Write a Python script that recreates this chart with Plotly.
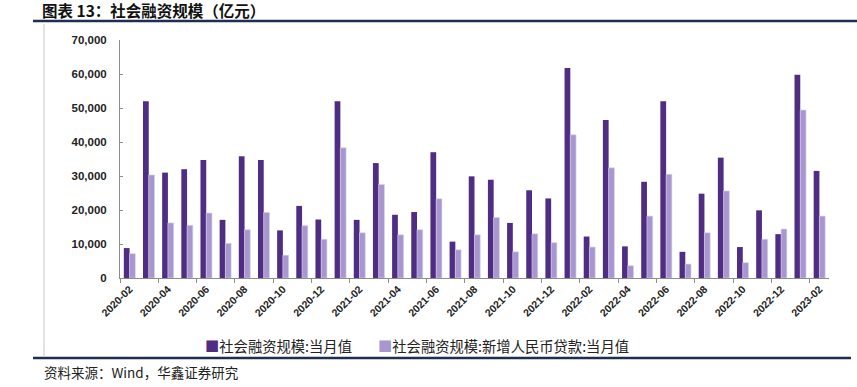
import plotly.graph_objects as go

months = [
    "2020-02", "2020-03", "2020-04", "2020-05", "2020-06", "2020-07", "2020-08", "2020-09",
    "2020-10", "2020-11", "2020-12", "2021-01", "2021-02", "2021-03", "2021-04", "2021-05",
    "2021-06", "2021-07", "2021-08", "2021-09", "2021-10", "2021-11", "2021-12", "2022-01",
    "2022-02", "2022-03", "2022-04", "2022-05", "2022-06", "2022-07", "2022-08", "2022-09",
    "2022-10", "2022-11", "2022-12", "2023-01", "2023-02",
]
tsf_total = [
    8800, 52000, 31000, 32000, 34700, 17100, 35800, 34700,
    14000, 21200, 17200, 52000, 17100, 33800, 18600, 19400,
    37000, 10700, 29900, 28900, 16200, 25800, 23400, 61800,
    12200, 46500, 9300, 28300, 52000, 7700, 24800, 35400,
    9100, 19900, 12900, 59800, 31500,
]
tsf_loans = [
    7150, 30300, 16200, 15500, 19100, 10200, 14200, 19300,
    6700, 15400, 11400, 38300, 13300, 27500, 12700, 14200,
    23300, 8300, 12700, 17800, 7700, 13000, 10400, 42100,
    9100, 32400, 3600, 18200, 30500, 4100, 13300, 25600,
    4500, 11400, 14400, 49400, 18200,
]
name_total = "社会融资规模:当月值"
name_loans = "社会融资规模:新增人民币贷款:当月值"
y_ticks = [0, 10000, 20000, 30000, 40000, 50000, 60000, 70000]

DARK = "#4E2D83"
LIGHT = "#A797CE"
NAVY = "#1F2D4F"

idx = list(range(len(months)))
fig = go.Figure()
fig.add_trace(go.Bar(x=idx, y=tsf_total, name=name_total, marker_color=DARK,
                     marker_line_width=0))
fig.add_trace(go.Bar(x=idx, y=tsf_loans, name=name_loans, marker_color=LIGHT,
                     marker_line=dict(color="#D9D2EC", width=0.6)))

L, R, T, B = 120, 28, 40, 109
W, H = 857, 387
pw = W - L - R
ph = H - T - B

def px(x):
    return (x - L) / pw

def py(y):
    return (H - B - y) / ph

fig.update_layout(
    width=W, height=H,
    margin=dict(l=L, r=R, t=T, b=B, pad=0),
    paper_bgcolor="white", plot_bgcolor="white",
    barmode="group", bargap=0.4, bargroupgap=0,
    showlegend=False,
    font=dict(family="Liberation Sans", color="#222222"),
    title=dict(text="<b>图表 13：社会融资规模（亿元）</b>", x=42 / W, xanchor="left",
               xref="container", y=1 - 11.5 / H, yanchor="middle", yref="container",
               font=dict(family="Noto Sans CJK SC", size=15.5, color="#111111")),
)

fig.update_xaxes(
    range=[-0.5, len(months) - 0.5],
    tickmode="array", tickvals=idx[::2], ticktext=months[::2],
    tickangle=-45, ticks="", showgrid=False, zeroline=False,
    showline=True, linecolor="#8C8C8C", linewidth=1,
    tickfont=dict(family="Liberation Sans", size=10.5, color="#222222", weight="bold"),
    minor=dict(ticks="outside", tick0=-0.5, dtick=2, ticklen=4, tickcolor="#8C8C8C",
               showgrid=False),
)
fig.update_yaxes(
    range=[0, 70000], tickmode="array", tickvals=y_ticks,
    ticktext=[f"{v:,}" for v in y_ticks],
    ticks="inside", ticklen=3, tickcolor="#8C8C8C",
    showgrid=False, zeroline=False,
    showline=True, linecolor="#8C8C8C", linewidth=1,
    ticklabelstandoff=10,
    tickfont=dict(family="Liberation Sans", size=11.5, color="#222222", weight="bold"),
)

shapes = [
    dict(type="line", xref="paper", yref="paper", x0=px(33), x1=px(857), y0=py(21), y1=py(21),
         line=dict(color=NAVY, width=2.5)),
    dict(type="line", xref="paper", yref="paper", x0=px(33), x1=px(851), y0=py(358), y1=py(358),
         line=dict(color=NAVY, width=2.5)),
    dict(type="line", xref="paper", yref="paper", x0=px(44), x1=px(44), y0=py(24), y1=py(356),
         line=dict(color="#C8C8C8", width=1)),
]
fig.update_layout(shapes=shapes)

# legend drawn as text entries
legend_items = [(name_total, DARK, 203), (name_loans, LIGHT, 376)]
for name, color, xpos in legend_items:
    fig.add_annotation(
        text=f"<span style='color:{color}'>■</span>{name}",
        xref="paper", yref="paper", x=px(xpos), y=py(346),
        xanchor="left", yanchor="middle", showarrow=False,
        font=dict(family="Noto Sans CJK SC", size=14.3, color="#222222"))

fig.add_annotation(text="资料来源：Wind，华鑫证券研究", xref="paper", yref="paper",
                   x=px(42), y=py(372), xanchor="left", yanchor="middle", showarrow=False,
                   font=dict(family="Noto Sans CJK SC", size=13.5, color="#222222"))

fig.write_html("out.html", config={"displayModeBar": False},
               post_script="document.body.style.margin='0';document.body.style.overflow='hidden';")
